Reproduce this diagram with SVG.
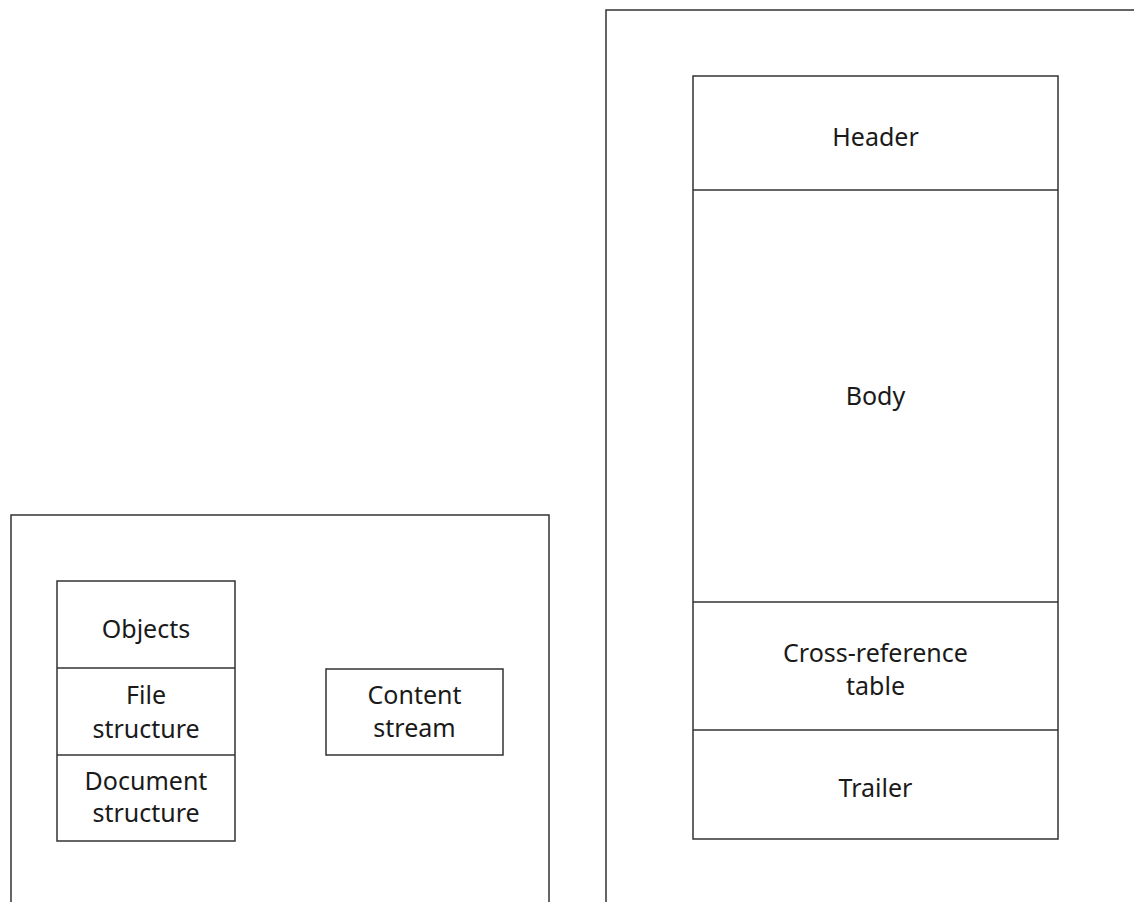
<svg xmlns="http://www.w3.org/2000/svg" width="1134" height="902" viewBox="0 0 1134 902">
<style>
.box{fill:none;stroke:#333;stroke-width:1.5}
.t{font-family:"Noto Sans","Open Sans",sans-serif;font-size:25px;fill:#1a1a1a;text-anchor:middle;dominant-baseline:central}
</style>
<rect width="1134" height="902" fill="#fff"/>
<g id="pdf-content">
<rect class="box" x="11" y="515" width="538" height="400"/>
</g>
<g id="stack">
<rect class="box" x="57" y="581" width="178" height="260"/>
<line class="box" x1="57" y1="668" x2="235" y2="668"/>
<line class="box" x1="57" y1="755" x2="235" y2="755"/>
</g>
<g id="objects"><text class="t" x="146" y="628">Objects</text></g>
<g id="file-structure"><text class="t" x="146" y="694">File</text><text class="t" x="146" y="728">structure</text></g>
<g id="document-structure"><text class="t" x="146" y="780">Document</text><text class="t" x="146" y="812">structure</text></g>
<g id="content-stream">
<rect class="box" x="326" y="669" width="177" height="86"/>
<text class="t" x="414.5" y="694">Content</text><text class="t" x="414.5" y="727">stream</text>
</g>
<g id="pdf-file">
<rect class="box" x="606" y="10" width="560" height="920"/>
</g>
<g id="file-stack">
<rect class="box" x="693" y="76" width="365" height="763"/>
<line class="box" x1="693" y1="190" x2="1058" y2="190"/>
<line class="box" x1="693" y1="602" x2="1058" y2="602"/>
<line class="box" x1="693" y1="730" x2="1058" y2="730"/>
</g>
<g id="header"><text class="t" x="875.5" y="136">Header</text></g>
<g id="body"><text class="t" x="875.5" y="395">Body</text></g>
<g id="xref"><text class="t" x="875.5" y="652">Cross-reference</text><text class="t" x="875.5" y="685">table</text></g>
<g id="trailer"><text class="t" x="875.5" y="787">Trailer</text></g>
<g id="connectors"></g>
</svg>
